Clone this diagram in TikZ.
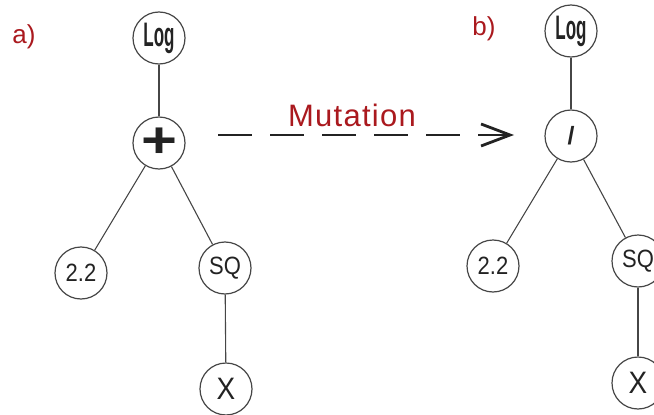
\documentclass[tikz,border=0pt]{standalone}
\usepackage{fontspec}
\setmainfont{Liberation Sans}
\usetikzlibrary{arrows.meta}
\definecolor{lblred}{RGB}{170,25,30}
\definecolor{edgegray}{RGB}{70,70,70}
\definecolor{txtgray}{RGB}{35,35,35}
\begin{document}
\begin{tikzpicture}[x=1pt,y=-1pt,
  tnode/.style={circle,draw=edgegray,line width=1.2pt,minimum size=52pt,inner sep=0pt,text=txtgray},
  tedge/.style={draw=edgegray,line width=1.1pt},
  lbl/.style={text=lblred,font=\fontsize{26}{28}\selectfont,inner sep=0pt}]
\useasboundingbox (0,0) rectangle (654,415);
% labels
\node[lbl] (la) at (24,37) {a)};
\node[lbl] (lb) at (484,29) {b)};
% left tree
\node[tnode] (logA) at (159,38) {\scalebox{0.5}[1]{\fontsize{34}{36}\selectfont\bfseries Log}};
\node[tnode] (plusA) at (159,143) {\raisebox{-5pt}{\scalebox{1.1}[0.9]{\fontsize{56}{58}\selectfont\bfseries +}}};
\node[tnode] (numA) at (81,273) {\scalebox{0.88}[1]{\fontsize{25}{27}\selectfont 2.2}};
\node[tnode] (sqA) at (225,268) {\scalebox{0.88}[1]{\fontsize{25}{27}\selectfont SQ}};
\node[tnode] (xA) at (226,389) {\scalebox{0.9}[1]{\fontsize{31}{33}\selectfont X}};
\draw[tedge] (logA) -- (plusA);
\draw[tedge] (plusA) -- (numA);
\draw[tedge] (plusA) -- (sqA);
\draw[tedge] (sqA) -- (xA);
% right tree
\node[tnode] (logB) at (571,31) {\scalebox{0.5}[1]{\fontsize{34}{36}\selectfont\bfseries Log}};
\node[tnode] (divB) at (571,136) {\raisebox{2pt}{\fontsize{25}{27}\selectfont\bfseries /}};
\node[tnode] (numB) at (493,266) {\scalebox{0.88}[1]{\fontsize{25}{27}\selectfont 2.2}};
\node[tnode] (sqB) at (638,261) {\scalebox{0.88}[1]{\fontsize{25}{27}\selectfont SQ}};
\node[tnode] (xB) at (638,383) {\scalebox{0.9}[1]{\fontsize{31}{33}\selectfont X}};
\draw[tedge] (logB) -- (divB);
\draw[tedge] (divB) -- (numB);
\draw[tedge] (divB) -- (sqB);
\draw[tedge] (sqB) -- (xB);
% mutation arrow
\coordinate (m1) at (218,135);
\coordinate (m2) at (514,135);
\draw[draw=txtgray,line width=2pt,dash pattern=on 34pt off 18pt,
  -{Straight Barb[length=29pt,width=22pt,line width=2.8pt]}] (m1) -- (m2);
\node[text=lblred,inner sep=0pt] (mut) at (352,115)
  {\fontspec{Liberation Sans}[LetterSpace=4]\fontsize{31}{33}\selectfont Mutation};
\end{tikzpicture}
\end{document}
